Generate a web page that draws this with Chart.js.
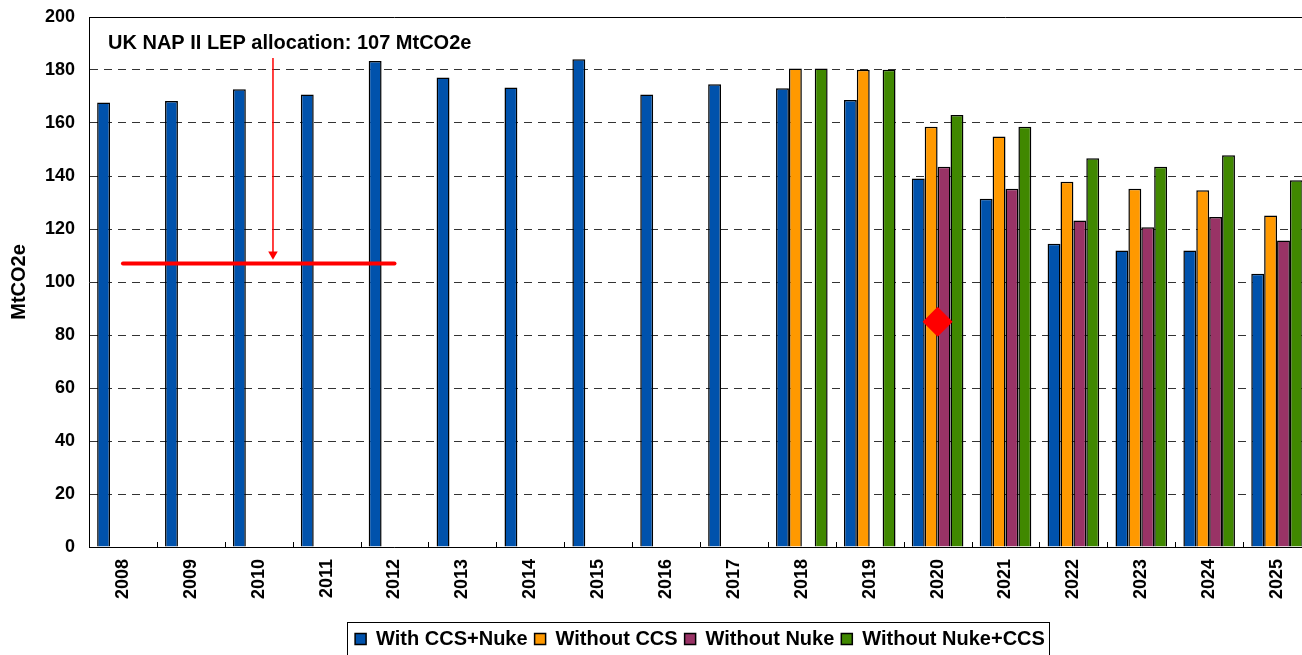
<!DOCTYPE html>
<html>
<head>
<meta charset="utf-8">
<script src="https://cdn.jsdelivr.net/npm/chart.js@4.4.1/dist/chart.umd.min.js"></script>
<style>
    html, body { margin: 0; padding: 0; background: #fff; overflow: hidden; }
    #wrap { width: 1400px; height: 655px; }
</style>
</head>
<body>
<div id="wrap"><canvas id="emissionsChart" width="1400" height="655"></canvas></div>
<script>
const years = ["2008", "2009", "2010", "2011", "2012", "2013", "2014", "2015", "2016",
    "2017", "2018", "2019", "2020", "2021", "2022", "2023", "2024", "2025"];

const withCcsNuke = [167.7, 168.3, 172.7, 170.8, 183.4, 177.2, 173.4, 184.1, 170.8,
    174.6, 173.1, 168.7, 139.1, 131.4, 114.4, 111.9, 111.9, 103.1];
const withoutCcs = [null, null, null, null, null, null, null, null, null,
    null, 180.6, 180.1, 158.6, 154.9, 137.8, 135.2, 134.6, 125.1];
const withoutNuke = [null, null, null, null, null, null, null, null, null,
    null, null, null, 143.5, 135.2, 123.2, 120.7, 124.5, 115.7];
const withoutNukeCcs = [null, null, null, null, null, null, null, null, null,
    null, 180.6, 180.1, 163.0, 158.6, 146.7, 143.5, 147.8, 138.4];

const seriesNames = ["With CCS+Nuke", "Without CCS", "Without Nuke", "Without Nuke+CCS"];
const seriesColors = ["#0052AC", "#FF9900", "#993366", "#408800"];

// LEP allocation line, 2008-2012
const allocation = [107, 107, 107, 107, 107, null, null, null, null,
    null, null, null, null, null, null, null, null, null];
// single marker in 2020
const marker2020 = [null, null, null, null, null, null, null, null, null,
    null, null, null, 85, null, null, null, null, null];

const allocationLabel = "UK NAP II LEP allocation: 107 MtCO2e";
// arrow sits a bit right of the 2010 category, in category-index units
const arrowX = 2.21;
const arrowFrom = 184.5;
const arrowTo = 110.5;
const labelAt = { x: -0.22, y: 188 };

const yTicks = [0, 20, 40, 60, 80, 100, 120, 140, 160, 180, 200];

const FONT = "'Liberation Sans', Arial, sans-serif";

const barData = [withCcsNuke, withoutCcs, withoutNuke, withoutNukeCcs];

const datasets = barData.map((values, i) => ({
    type: "bar",
    label: seriesNames[i],
    data: values,
    backgroundColor: seriesColors[i],
    borderColor: "#000",
    borderWidth: 1.5,
    categoryPercentage: 0.76,
    barPercentage: 1.0,
    order: 3
}));

datasets.push({
    type: "line",
    label: "allocation",
    data: allocation,
    borderColor: "#FF0000",
    borderWidth: 4,
    borderCapStyle: "round",
    pointRadius: 0,
    order: 1
});

// parsing off so the fractional x position is kept on the category axis
datasets.push({
    type: "line",
    label: "arrow",
    parsing: false,
    normalized: true,
    data: [{ x: arrowX, y: arrowFrom }, { x: arrowX, y: arrowTo }],
    borderColor: "#FF0000",
    borderWidth: 1.5,
    pointStyle: "triangle",
    pointRotation: 180,
    pointRadius: [0, 5.5],
    pointBackgroundColor: "#FF0000",
    pointBorderWidth: 0,
    order: 1
});

datasets.push({
    type: "line",
    label: "marker",
    data: marker2020,
    showLine: false,
    pointStyle: "rectRot",
    pointRadius: 15,
    pointBackgroundColor: "#FF0000",
    pointBorderWidth: 0,
    order: 0
});

const extrasPlugin = {
    id: "extras",
    afterDatasetsDraw(chart) {
        const ctx = chart.ctx;
        const area = chart.chartArea;
        const x = chart.scales.x;
        const y = chart.scales.y;

        ctx.save();
        // top frame line
        ctx.strokeStyle = "#000";
        ctx.lineWidth = 1;
        ctx.beginPath();
        ctx.moveTo(area.left, area.top + 0.5);
        ctx.lineTo(area.right, area.top + 0.5);
        ctx.stroke();

        // small inward ticks between categories
        for (let i = 1; i < years.length; i++) {
            const px = Math.round(x.getPixelForValue(i - 0.5)) + 0.5;
            ctx.beginPath();
            ctx.moveTo(px, area.bottom);
            ctx.lineTo(px, area.bottom - 5);
            ctx.stroke();
        }

        // allocation label
        ctx.fillStyle = "#000";
        ctx.font = "bold 20px " + FONT;
        ctx.textAlign = "left";
        ctx.textBaseline = "alphabetic";
        ctx.fillText(allocationLabel, x.getPixelForValue(labelAt.x), y.getPixelForValue(labelAt.y));
        ctx.restore();
    },
    afterDraw(chart) {
        const legend = chart.legend;
        if (!legend || !legend.legendHitBoxes.length) return;
        const boxes = legend.legendHitBoxes;
        const left = boxes[0].left - 8;
        const last = boxes[boxes.length - 1];
        const right = last.left + last.width + 4;
        const top = boxes[0].top - 7;
        const ctx = chart.ctx;
        ctx.save();
        ctx.strokeStyle = "#000";
        ctx.lineWidth = 1;
        ctx.strokeRect(Math.round(left) + 0.5, Math.round(top) + 0.5, Math.round(right - left), 40);
        ctx.restore();
    }
};

new Chart(document.getElementById("emissionsChart"), {
    type: "bar",
    data: {
        labels: years,
        datasets: datasets
    },
    options: {
        responsive: false,
        animation: false,
        events: [],
        layout: {
            padding: { top: 17, right: 89, bottom: -4, left: 0 }
        },
        plugins: {
            tooltip: { enabled: false },
            legend: {
                position: "bottom",
                fullSize: false,
                labels: {
                    filter: item => item.datasetIndex < 4,
                    boxWidth: 11,
                    boxHeight: 11,
                    padding: 7,
                    color: "#000",
                    font: { family: FONT, size: 20, weight: "bold" }
                }
            }
        },
        scales: {
            x: {
                type: "category",
                offset: true,
                grid: { display: false, drawTicks: false },
                border: { display: true, color: "#000", width: 1 },
                ticks: {
                    minRotation: 90,
                    maxRotation: 90,
                    autoSkip: false,
                    padding: 12,
                    color: "#000",
                    font: { family: FONT, size: 18, weight: "bold" }
                },
                afterFit: scale => { scale.height = 75; }
            },
            y: {
                min: 0,
                max: 200,
                afterBuildTicks: scale => {
                    scale.ticks = yTicks.map(v => ({ value: v }));
                },
                grid: {
                    drawTicks: false,
                    color: ctx => (ctx.tick && (ctx.tick.value === 200 || ctx.tick.value === 0)) ? "rgba(0,0,0,0)" : "#333",
                    lineWidth: 1
                },
                border: { display: true, color: "#000", width: 1, dash: [8, 6] },
                ticks: {
                    padding: 14,
                    color: "#000",
                    font: { family: FONT, size: 18, weight: "bold" }
                },
                title: {
                    display: true,
                    text: "MtCO2e",
                    color: "#000",
                    padding: { top: 7, bottom: 0 },
                    font: { family: FONT, size: 20, weight: "bold" }
                },
                afterFit: scale => {
                    scale.width = 89;
                    scale.paddingTop = 0;
                    scale.paddingBottom = 0;
                }
            }
        }
    },
    plugins: [extrasPlugin]
});
</script>
</body>
</html>
